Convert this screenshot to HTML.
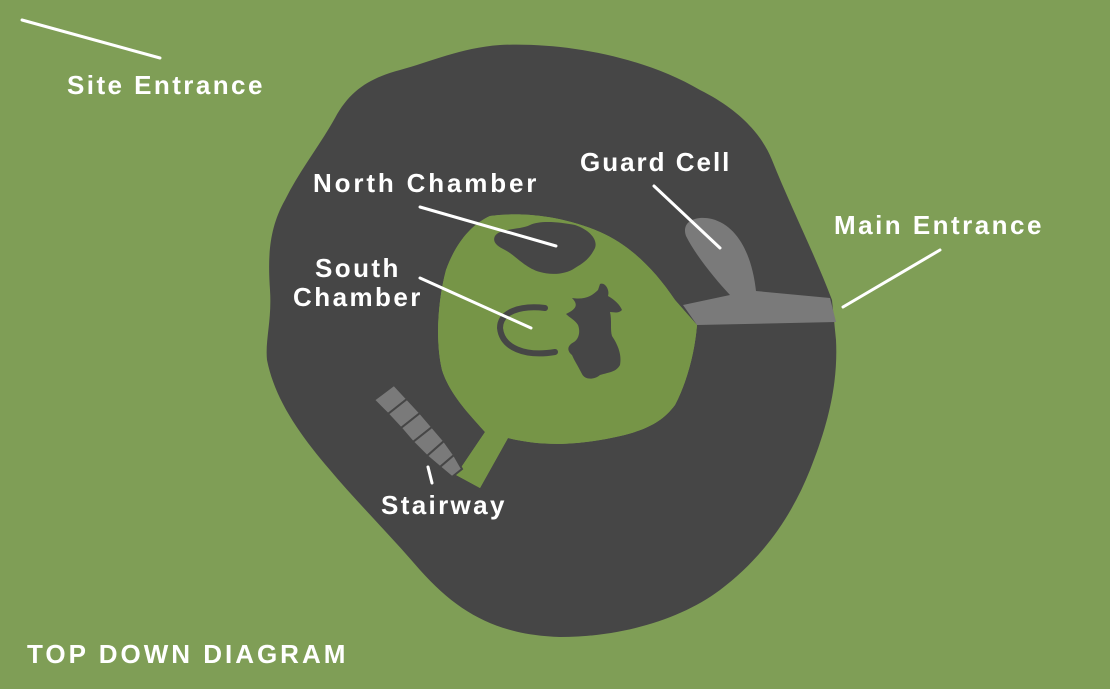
<!DOCTYPE html>
<html><head><meta charset="utf-8"><style>
html,body{margin:0;padding:0;}
body{width:1110px;height:689px;background:#7f9e56;overflow:hidden;position:relative;font-family:"Liberation Sans",sans-serif;}
svg{position:absolute;left:0;top:0;}
.t{font-family:"Liberation Sans",sans-serif;font-weight:bold;fill:#fff;font-size:26px;letter-spacing:2.6px;}
</style></head><body>
<svg width="1110" height="689" viewBox="0 0 1110 689">
<path fill-rule="evenodd" fill="#464646" d="M335,118 C350,90 370,78 400,70 C430,62 460,48 500,45 C560,42 640,55 700,90 C740,110 762,135 772,160 C790,205 815,255 832,300 L836,340 C838,380 830,420 810,470 C790,520 760,560 720,590 C680,620 620,637 560,637 C500,635 460,615 420,570 C390,535 355,500 330,470 C300,435 275,400 267,360 C265,340 272,320 270,290 C268,260 268,230 285,200 C300,170 320,145 335,118 Z
M490,216 C520,212 560,215 600,232 C630,245 655,270 675,300 L697,325 C695,350 688,380 675,405 C660,425 640,433 600,440 C570,445 540,446 508,438 L480,488 L456,475 L485,432 C470,415 450,395 442,370 C435,340 438,300 446,270 C455,245 470,225 490,216 Z"/>
<path fill="#769547" d="M490,216 C520,212 560,215 600,232 C630,245 655,270 675,300 L697,325 C695,350 688,380 675,405 C660,425 640,433 600,440 C570,445 540,446 508,438 L480,488 L456,475 L485,432 C470,415 450,395 442,370 C435,340 438,300 446,270 C455,245 470,225 490,216 Z"/>
<path fill="#464646" d="M485,432 C475,445 468,455 464,460 L458,470 L450,460 C470,450 478,440 485,432Z"/>
<!-- passage -->
<path fill="#7a7a7a" d="M683,305 L730,295 C716,280 696,256 686,236 C681,222 695,215 712,219 C738,226 752,255 756,291 L830,298 L836,322 L697,325 Z"/>
<!-- stairs -->
<g fill="#7a7a7a" stroke="#464646" stroke-width="2">
<path d="M374,400 L394,385 L407,399 L388,414Z"/>
<path d="M388,414 L407,399 L420,413 L401,428Z"/>
<path d="M401,428 L420,413 L432,427 L413,442Z"/>
<path d="M413,442 L432,427 L444,441 L427,456Z"/>
<path d="M427,456 L444,441 L454,455 L440,467Z"/>
<path d="M440,467 L454,455 L462,469 L452,477Z"/>
</g>
<!-- north chamber blob -->
<path fill="#464646" d="M495,236 C500,228 520,230 530,225 C540,220 560,222 575,225 C590,230 598,240 595,248 C590,258 585,262 575,268 C565,275 550,275 540,272 C525,268 515,255 505,250 C497,246 492,242 495,236Z"/>
<!-- south chamber arc -->
<path fill="none" stroke="#464646" stroke-width="6" stroke-linecap="round" d="M545,308 C520,305 500,312 500,328 C502,348 525,357 555,352"/>
<!-- irregular blob -->
<path fill="#464646" d="M572,298 C585,300 592,296 598,290 L600,284 C605,282 610,290 608,296 C615,300 620,305 622,310 C618,314 614,312 610,312 C612,320 610,330 612,336 C618,345 622,355 620,365 C616,372 610,372 600,375 C594,380 585,380 582,374 C578,366 574,360 572,355 C566,350 568,345 574,342 C580,338 580,330 578,325 C575,320 570,318 566,314 C574,310 580,306 572,298Z"/>
<!-- leader lines -->
<g stroke="#fff" stroke-width="3" stroke-linecap="round">
<line x1="22" y1="20" x2="160" y2="58"/>
<line x1="420" y1="207" x2="556" y2="246"/>
<line x1="420" y1="278" x2="531" y2="328"/>
<line x1="654" y1="186" x2="720" y2="248"/>
<line x1="940" y1="250" x2="843" y2="307"/>
<line x1="428" y1="467" x2="432" y2="483"/>
</g>
<text class="t" x="67" y="94" textLength="198">Site Entrance</text>
<text class="t" x="313" y="192" textLength="226">North Chamber</text>
<text class="t" x="580" y="171" textLength="152">Guard Cell</text>
<text class="t" x="834" y="234" textLength="210">Main Entrance</text>
<text class="t" x="315" y="277" textLength="86">South</text>
<text class="t" x="293" y="306" textLength="130">Chamber</text>
<text class="t" x="381" y="514" textLength="126">Stairway</text>
<text class="t" x="27" y="663" textLength="321">TOP DOWN DIAGRAM</text>
</svg>
</body></html>
